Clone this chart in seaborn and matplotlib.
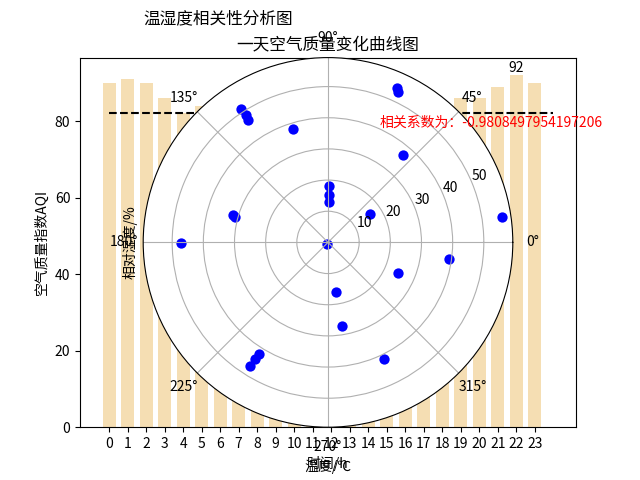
import matplotlib
matplotlib.use("Agg")
import matplotlib.pyplot as plt
import numpy as np
import seaborn as sns

# hourly air quality index (bars)
hours = list(range(24))
aqi = [90, 91, 90, 86, 82, 84, 83, 81, 79, 77, 75, 73, 71, 71, 73, 76,
       78, 81, 84, 86, 86, 89, 92, 90]

# temperature (angle, degrees) / relative humidity (radius) scatter
temp_deg = [123.1, 122.9, 123.1, 107.0, 65.9, 65.0, 49.3, 89.2, 89.0, 88.9,
            33.4, 164.1, 164.6, 180.4, 8.3, 225.0, 279.6, 279.4, 336.1, 352.0,
            295.5, 238.2, 238.0, 237.8]
humidity = [51.1, 48.5, 46.9, 38.1, 54.4, 53.3, 37.1, 18.0, 15.1, 13.0,
            16.3, 31.8, 31.0, 47.1, 56.5, 0.5, 16.2, 27.1, 24.4, 39.2,
            41.4, 42.0, 44.1, 46.9]

corr = -0.9808497954197206

plt.rcParams["font.family"] = ["Noto Sans CJK SC", "DejaVu Sans"]
plt.rcParams["axes.unicode_minus"] = False

fig = plt.figure(figsize=(6.4, 4.8), dpi=100)
ax = fig.add_subplot(111)
sns.barplot(x=hours, y=aqi, native_scale=True, width=0.7, color="wheat",
            saturation=1, ax=ax)
mean_aqi = np.mean(aqi)
ax.plot([hours[0], hours[-1] + 1], [mean_aqi, mean_aqi], "k--")
imax = int(np.argmax(aqi))
ax.text(hours[imax], aqi[imax], str(aqi[imax]), ha="center", va="bottom")
ax.set_xticks(hours)
ax.set_xlabel("时间/h")
ax.set_ylabel("空气质量指数AQI")
ax.set_title("一天空气质量变化曲线图")

pax = fig.add_subplot(111, projection="polar")
sns.scatterplot(x=np.deg2rad(temp_deg), y=humidity, color="blue", s=55,
                linewidth=0, ax=pax)
pax.set_xlabel("温度/℃")
pax.set_ylabel("相对湿度/%")
pax.set_title("温湿度相关性分析图", loc="left")

fig.text(380 / 640, 1 - 123 / 480, f"相关系数为：{corr}", color="red",
         va="center")

fig.savefig("out.png", dpi=100)
